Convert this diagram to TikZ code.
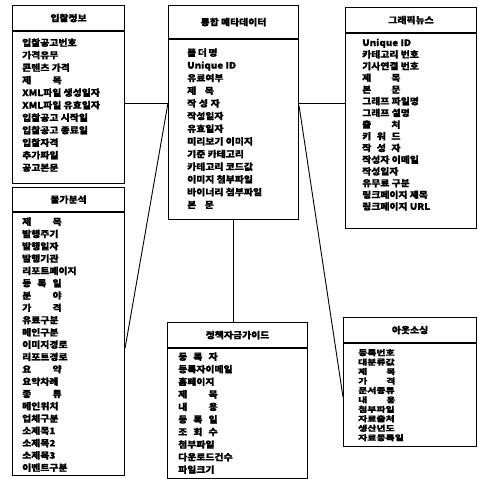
\documentclass[tikz,border=0pt]{standalone}
\usepackage{fontspec}
\usepackage{graphicx}
\newfontfamily\kr{Noto Sans CJK KR}[BoldFeatures={FakeBold=0.8}]
\newcommand\sw[2]{\makebox[#1][s]{#2}}
\newcommand\wx[1]{\scalebox{1.16}[1.05]{#1}}
\newcommand\wxs[1]{\scalebox{1.24}[0.95]{#1}}
\begin{document}
\begin{tikzpicture}[x=1pt,y=-1pt,
  box/.style={draw,line width=1.1pt,inner sep=0pt,anchor=north west},
  txt/.style={font=\kr\bfseries\fontsize{8.5}{10}\selectfont},
  hdr/.style={box,txt},
  item/.style={txt,inner sep=0pt,anchor=base west},
  itemsm/.style={item,font=\kr\bfseries\fontsize{8}{9}\selectfont},
  link/.style={line width=0.9pt}]
\useasboundingbox (0,0) rectangle (477,479);
% Box 1
\node[hdr,minimum width=112pt,minimum height=25pt] (h1) at (12,5) {\wx{입찰정보}};
\node[box,minimum width=112pt,minimum height=152pt] (b1) at (h1.south west) {};
\foreach \t [count=\i from 0] in {입찰공고번호,가격유무,콘텐츠 가격,\sw{34pt}{제 목},XML파일 생성일자,XML파일 유효일자,입찰공고 시작일,입찰공고 종료일,입찰자격,추가파일,공고본문}
  \node[item] (t1-\i) at (22,{46+\i*12.5}) {\wx{\t}};
% Box 2
\node[hdr,minimum width=112pt,minimum height=24pt] (h2) at (12,187) {\wx{물가분석}};
\node[box,minimum width=112pt,minimum height=263pt] (b2) at (h2.south west) {};
\foreach \t [count=\i from 0] in {\sw{34pt}{제 목},발행주기,발행일자,발행기관,리포트페이지,\sw{34pt}{등 록 일},\sw{34pt}{분 야},\sw{34pt}{가 격},유료구분,메인구분,이미지경로,리포트경로,\sw{34pt}{요 약},요약차례,\sw{34pt}{종 류},메인위치,업체구분,소제목1,소제목2,소제목3,이벤트구분}
  \node[item] (t2-\i) at (22,{225+\i*12.3}) {\wx{\t}};
% Box 3
\node[hdr,minimum width=130pt,minimum height=33pt] (h3) at (168,5) {\wx{통합 메타데이터}};
\node[box,minimum width=130pt,minimum height=180pt] (b3) at (h3.south west) {};
\foreach \t [count=\i from 0] in {\sw{26pt}{폴 더 명},Unique ID,유료여부,\sw{23pt}{제 목},\sw{28pt}{작 성 자},작성일자,유효일자,미리보기 이미지,기준 카테고리,카테고리 코드값,이미지 첨부파일,바이너리 첨부파일,\sw{23pt}{본 문}}
  \node[item] (t3-\i) at (187,{56+\i*12.67}) {\wx{\t}};
% Box 4
\node[hdr,minimum width=131pt,minimum height=25pt] (h4) at (345,7) {\wx{그래픽뉴스}};
\node[box,minimum width=131pt,minimum height=195pt] (b4) at (h4.south west) {};
\foreach \t [count=\i from 0] in {Unique ID,카테고리 번호,기사연결 번호,\sw{33pt}{제 목},\sw{33pt}{본 문},그래프 파일명,그래프 설명,\sw{33pt}{출 처},\sw{33pt}{키 워 드},\sw{33pt}{작 성 자},작성자 이메일,작성일자,유무료 구분,링크페이지 제목,링크페이지 URL}
  \node[item] (t4-\i) at (362,{46+\i*11.7}) {\wx{\t}};
% Box 5
\node[hdr,minimum width=140pt,minimum height=25pt] (h5) at (167,322) {\wx{정책자금가이드}};
\node[box,minimum width=140pt,minimum height=130pt] (b5) at (h5.south west) {};
\foreach \t [count=\i from 0] in {\sw{34pt}{등 록 자},등록자이메일,홈페이지,\sw{34pt}{제 목},\sw{34pt}{내 용},\sw{34pt}{등 록 일},\sw{34pt}{조 회 수},첨부파일,다운로드건수,파일크기}
  \node[item] (t5-\i) at (178,{360+\i*12.55}) {\wx{\t}};
% Box 6
\node[hdr,minimum width=133pt,minimum height=25pt] (h6) at (343,317) {\wx{아웃소싱}};
\node[box,minimum width=133pt,minimum height=103pt] (b6) at (h6.south west) {};
\foreach \t [count=\i from 0] in {등록번호,대분류값,\sw{30pt}{제 목},\sw{30pt}{가 격},문서종류,\sw{30pt}{내 용},첨부파일,자료출처,생산년도,자료등록일}
  \node[itemsm] (t6-\i) at (358,{355.5+\i*9.45}) {\wxs{\t}};
% connectors
\coordinate (y103) at (0,103);
\coordinate (y106) at (0,106);
\coordinate (y348) at (0,348);
\coordinate (y397) at (0,397);
\draw[link] (b1.east |- y103) -- (b3.west |- y103);
\draw[link] (b3.west |- y103) -- (b2.east |- y348);
\draw[link] (b3.east |- y103) -- (b4.west |- y103);
\draw[link] (b3.east |- y106) -- (b6.west |- y397);
\draw[link] (b3.south) -- (b3.south |- h5.north);
\end{tikzpicture}
\end{document}
